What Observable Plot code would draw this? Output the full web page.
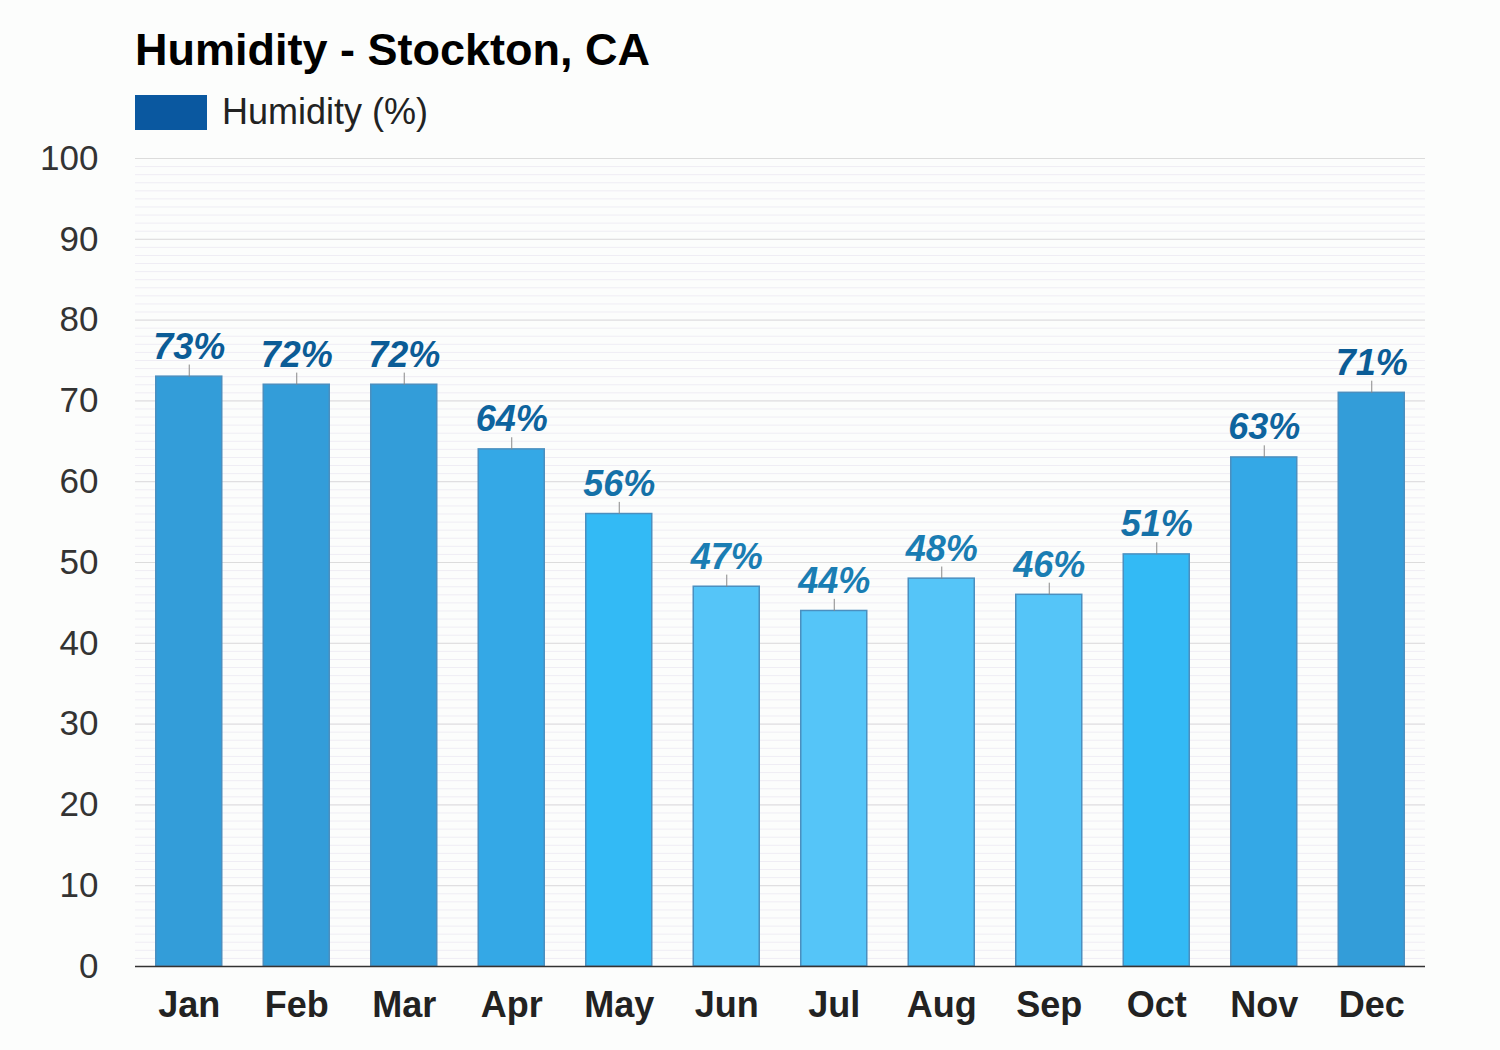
<!DOCTYPE html>
<html>
<head>
<meta charset="utf-8">
<script src="https://cdn.jsdelivr.net/npm/d3@7"></script>
<script src="https://cdn.jsdelivr.net/npm/@observablehq/plot@0.6"></script>
<style>
  html, body { margin: 0; padding: 0; background: #fcfdfc; }
  #wrap { position: relative; width: 1500px; height: 1050px; font-family: "Liberation Sans", Arial, sans-serif; }
  #title { position: absolute; left: 135px; top: 27px; font-size: 45px; font-weight: bold; color: #000; line-height: 1; z-index: 2; }
  #legend { position: absolute; left: 135px; top: 91px; display: flex; align-items: center; z-index: 2; }
  #swatch { width: 72px; height: 35px; background: #0a58a0; }
  #legend span { margin-left: 15px; font-size: 36px; color: #222; }
  #chart { position: absolute; left: 0; top: 110px; z-index: 1; }
</style>
</head>
<body>
<div id="wrap">
  <div id="title">Humidity - Stockton, CA</div>
  <div id="legend"><div id="swatch"></div><span>Humidity (%)</span></div>
  <div id="chart"></div>
</div>
<script>
const months = ["Jan","Feb","Mar","Apr","May","Jun","Jul","Aug","Sep","Oct","Nov","Dec"];
const humidity = [73, 72, 72, 64, 56, 47, 44, 48, 46, 51, 63, 71];
const yTicks = [0,10,20,30,40,50,60,70,80,90,100];

const data = months.map((m, i) => ({month: m, value: humidity[i], label: humidity[i] + "%"}));
const labelColor = d3.scaleThreshold().domain([50, 60, 70]).range(["#1a7db3", "#1571a8", "#0e649e", "#0b5c96"]);
const minor = d3.range(0, 101, 1);

const chart = Plot.plot({
  width: 1500,
  height: 940,
  marginLeft: 135,
  marginRight: 75,
  marginTop: 48,
  marginBottom: 84,
  style: {background: "transparent", fontFamily: "Liberation Sans, Arial, sans-serif"},
  x: {domain: months, paddingInner: 0.386, paddingOuter: 0.193, round: false, label: null},
  y: {domain: [0, 100], label: null},
  color: {type: "threshold", domain: [50, 60, 70], range: ["#55c5f8", "#33baf5", "#34a8e6", "#339dd9"]},
  marks: [
    Plot.ruleY(minor, {stroke: "#efedf4", strokeWidth: 1}),
    Plot.ruleY(yTicks, {stroke: "#dcdcdc", strokeWidth: 1}),
    Plot.axisY(yTicks, {tickSize: 0, tickPadding: 37, fontSize: 35, fill: "#333", label: null}),
    Plot.axisX({tickSize: 0, tickPadding: 25, fontSize: 36, fontWeight: "bold", fill: "#222", label: null}),
    Plot.barY(data, {x: "month", y: "value", fill: "value", stroke: "#4b8fbf", strokeWidth: 1.5}),
    Plot.ruleY([0], {stroke: "#333", strokeWidth: 1.5}),
    Plot.link(data, {x1: "month", x2: "month", y1: "value", y2: d => d.value + 1.5, stroke: "#888", strokeWidth: 1}),
    Plot.text(data, {x: "month", y: d => d.value + 1.5, text: "label", lineAnchor: "bottom", dy: -6, fontSize: 36, fontWeight: "bold", fontStyle: "italic", fill: d => labelColor(d.value)})
  ]
});
document.getElementById("chart").appendChild(chart);
</script>
</body>
</html>
